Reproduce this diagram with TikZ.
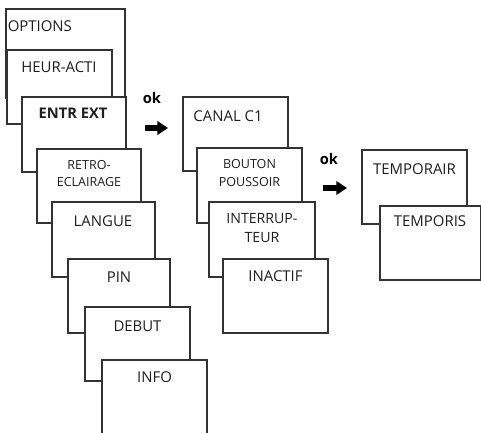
\documentclass[tikz,border=0pt]{standalone}
\usepackage{fontspec}
\setmainfont{Open Sans}
\usetikzlibrary{arrows.meta}
\definecolor{edge}{HTML}{333333}
\definecolor{ink}{HTML}{1E1E1E}
\tikzset{
  box/.style={draw=edge, line width=0.8pt, fill=white},
  lbl/.style={inner sep=0pt, text=ink, font=\fontsize{11.2}{12}\selectfont},
  small/.style={inner sep=0pt, text=ink, align=center, font=\fontsize{9.4}{13}\selectfont},
  mid/.style={inner sep=0pt, text=ink, align=center, font=\fontsize{10.6}{14.5}\selectfont},
  oktxt/.style={inner sep=0pt, text=black, font=\fontsize{11}{12}\selectfont\bfseries},
  okarrow/.style={line width=4pt, -{Triangle[length=8pt,width=10pt]}, black}
}
\begin{document}
\begin{tikzpicture}[x=0.75pt,y=-0.75pt]
\useasboundingbox (0,0) rectangle (481,432);
% left column
\draw[box] (6,9) rectangle (125,98);
\node[lbl, anchor=west] (options) at (7.5,26.5) {OPTIONS};
\draw[box] (7,50) rectangle (112,124);
\node[lbl] (heur) at (59,67) {HEUR-ACTI};
\draw[box] (22,97) rectangle (126,172);
\node[lbl, font=\fontsize{11}{12}\selectfont\bfseries] (entr) at (73,113) {ENTR EXT};
\draw[box] (37,149) rectangle (141,223);
\node[small] (retro) at (89,173.5) {RETRO-\\ECLAIRAGE};
\draw[box] (52,202) rectangle (155,277);
\node[lbl] (langue) at (103,221.5) {LANGUE};
\draw[box] (68,259) rectangle (170,333);
\node[lbl] (pin) at (119,277.5) {PIN};
\draw[box] (85,307) rectangle (190,381);
\node[lbl] (debut) at (137.5,326) {DEBUT};
\draw[box] (102,360) rectangle (207,445);
\node[lbl] (info) at (154.5,377) {INFO};
% middle column
\draw[box] (183,97) rectangle (288,171);
\node[lbl] (canal) at (228,116.5) {CANAL C1};
\draw[box] (197,148) rectangle (302,223);
\node[small] (bouton) at (249.5,173) {BOUTON\\POUSSOIR};
\draw[box] (209,202) rectangle (315,277);
\node[mid] (inter) at (262,228) {INTERRUP-\\TEUR};
\draw[box] (223,259) rectangle (328,333);
\node[lbl] (inactif) at (275.5,276) {INACTIF};
% right column
\draw[box] (362,150) rectangle (467,224);
\node[lbl] (tempa) at (414.5,169) {TEMPORAIR};
\draw[box] (380,206) rectangle (480.5,280);
\node[lbl] (tempb) at (430,221.5) {TEMPORIS};
% ok arrows
\node[oktxt] (ok1) at (152,98) {ok};
\coordinate (a1s) at (145,128);
\coordinate (a1e) at (168,128);
\draw[okarrow] (a1s) -- (a1e);
\node[oktxt] (ok2) at (329,158.5) {ok};
\coordinate (a2s) at (323,188);
\coordinate (a2e) at (347,188);
\draw[okarrow] (a2s) -- (a2e);
\end{tikzpicture}
\end{document}
